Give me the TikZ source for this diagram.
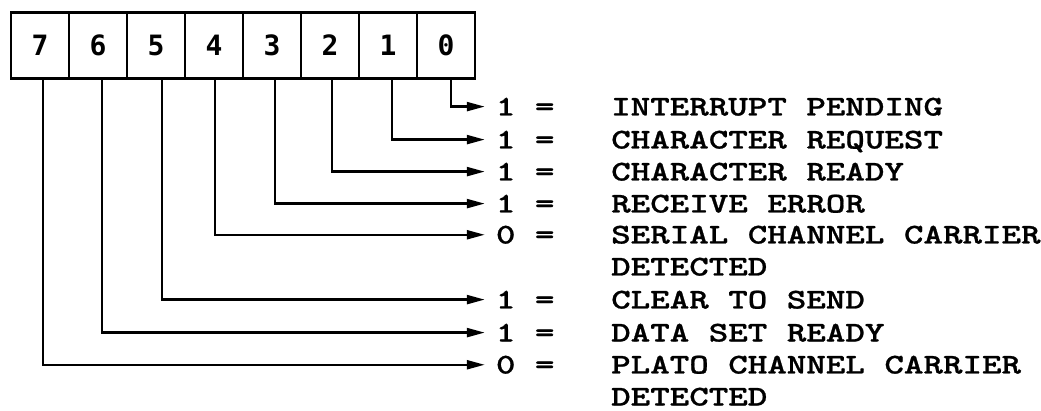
\documentclass[tikz,border=0pt]{standalone}
\usepackage{fontspec}
\usetikzlibrary{arrows.meta}
\newfontfamily\typew{lmmonolt10-bold.otf}[FakeStretch=1.3,FakeBold=0.8]
\newfontfamily\digitf{DejaVu Sans Mono}
\begin{document}
\begin{tikzpicture}[x=1pt,y=-1pt,
  cell/.style={draw,line width=2.6pt,minimum width=58pt,minimum height=66pt,inner sep=0pt,
    font=\digitf\bfseries\fontsize{28}{30}\selectfont},
  val/.style={anchor=base west,inner sep=0pt,font=\typew\fontsize{28.6}{34}\selectfont},
  desc/.style={anchor=base west,inner sep=0pt,font=\typew\fontsize{28.6}{34}\selectfont},
  arr/.style={line width=2.4pt,-{Triangle[length=18pt,width=9pt]}}]
\useasboundingbox (0,0) rectangle (1041,411);
% register cells
\foreach \b [count=\i from 0] in {7,6,5,4,3,2,1,0}{
  \node[cell] (c\b) at ({40+58*\i},45.5) {\b};
}
% values and descriptions
\node[val] (v0) at (495.75,115.5) {1 =};
\node[val] (v1) at (495.75,148.5) {1 =};
\node[val] (v2) at (495.75,180.5) {1 =};
\node[val] (v3) at (495.75,212.5) {1 =};
\node[val] (v4) at (495.75,243.5) {0 =};
\node[val] (v5) at (495.75,308.5) {1 =};
\node[val] (v6) at (495.75,341.5) {1 =};
\node[val] (v7) at (495.75,373.5) {0 =};
\node[desc] (d0) at (611,115.5) {INTERRUPT PENDING};
\node[desc] (d1) at (611,148.5) {CHARACTER REQUEST};
\node[desc] (d2) at (611,180.5) {CHARACTER READY};
\node[desc] (d3) at (611,212.5) {RECEIVE ERROR};
\node[desc] (d4) at (611,243.5) {SERIAL CHANNEL CARRIER};
\node[desc] (d4b) at (611,275.5) {DETECTED};
\node[desc] (d5) at (611,308.5) {CLEAR TO SEND};
\node[desc] (d6) at (611,341.5) {DATA SET READY};
\node[desc] (d7) at (611,373.5) {PLATO CHANNEL CARRIER};
\node[desc] (d7b) at (611,405.5) {DETECTED};
% connectors
\draw[arr] ([xshift=5pt]c0.south) |- ([xshift=-11pt]v0.west);
\draw[arr] ([xshift=4pt]c1.south) |- ([xshift=-11pt]v1.west);
\draw[arr] ([xshift=2pt]c2.south) |- ([xshift=-11pt]v2.west);
\draw[arr] ([xshift=3pt]c3.south) |- ([xshift=-11pt]v3.west);
\draw[arr] ([xshift=1pt]c4.south) |- ([xshift=-11pt]v4.west);
\draw[arr] ([xshift=6pt]c5.south) |- ([xshift=-11pt]v5.west);
\draw[arr] ([xshift=4pt]c6.south) |- ([xshift=-11pt]v6.west);
\draw[arr] ([xshift=3pt]c7.south) |- ([xshift=-11pt]v7.west);
\end{tikzpicture}
\end{document}
